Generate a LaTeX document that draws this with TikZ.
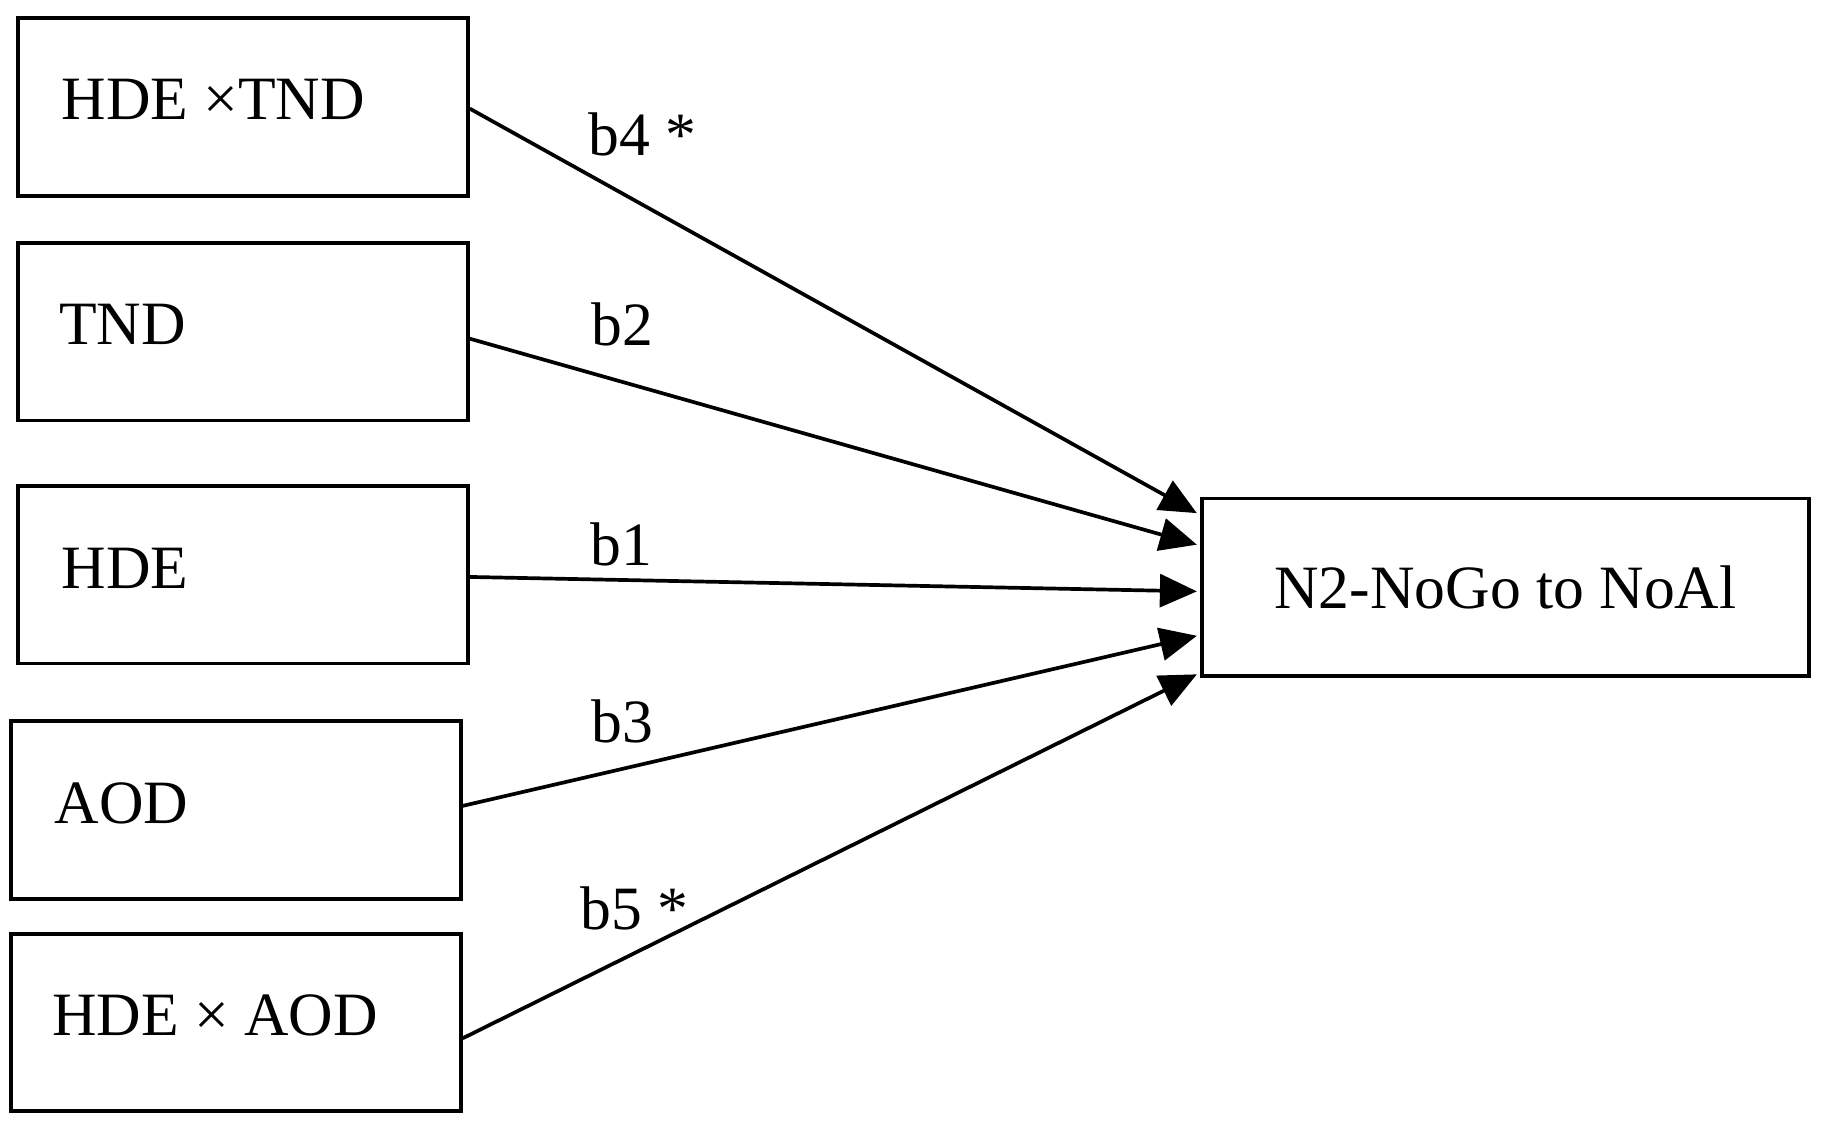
\documentclass[tikz,border=0pt]{standalone}
\usepackage{fontspec}
\setmainfont{Liberation Serif}
\usetikzlibrary{calc,arrows.meta}
\begin{document}
\begin{tikzpicture}[x=0.01cm,y=-0.01cm,
  box/.style={draw,line width=0.9pt,minimum width=3.85cm,minimum height=1.52cm,inner sep=0pt,font=\fontsize{15}{18}\selectfont},
  txt/.style={anchor=west,inner sep=0pt,font=\fontsize{15}{18}\selectfont},
  lab/.style={font=\fontsize{15}{18}\selectfont,anchor=center},
  arr/.style={line width=0.9pt,-{Triangle[length=9pt,width=8pt]}}]
\useasboundingbox (0,0) rectangle (1560,962);
\node[box] (a) at (208,91.5) {};
\node[txt] (ta) at (52,85) {HDE ×TND};
\node[box] (b) at (208,284) {};
\node[txt] (tb) at (50,278) {TND};
\node[box] (c) at (208,492) {};
\node[txt] (tc) at (52,487) {HDE};
\node[box] (d) at (202,693.5) {};
\node[txt] (td) at (46,688) {AOD};
\node[box] (e) at (202,875.5) {};
\node[txt] (te) at (44,869) {HDE × AOD};
\node[box,minimum width=5.19cm] (t) at (1289,503) {N2-NoGo to NoAl};
\draw[arr] ($(a.east)+(0,1.5)$) -- ($(t.north west)+(-3,14)$);
\draw[arr] ($(b.east)+(0,6)$) -- ($(t.north west)+(-3,41)$);
\draw[arr] ($(c.east)+(0,2)$) -- ($(t.north west)+(-3,81)$);
\draw[arr] ($(d.east)+(0,-3.5)$) -- ($(t.north west)+(-3,119)$);
\draw[arr] ($(e.east)+(0,13.5)$) -- ($(t.north west)+(-3,152)$);
\node[lab] (l4) at (550,115) {b4 *};
\node[lab] (l2) at (533,278) {b2};
\node[lab] (l1) at (532,466) {b1};
\node[lab] (l3) at (533,618) {b3};
\node[lab] (l5) at (543,778) {b5 *};
\end{tikzpicture}
\end{document}
